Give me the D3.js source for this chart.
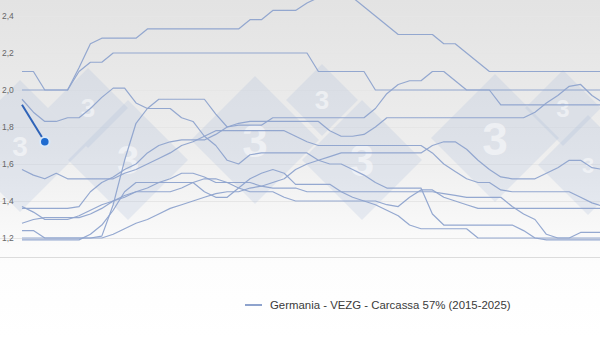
<!DOCTYPE html>
<html>
<head>
<meta charset="utf-8">
<script src="https://cdn.jsdelivr.net/npm/d3@7"></script>
<style>
  html, body { margin: 0; padding: 0; background: #fff; }
  svg { display: block; font-family: "Liberation Sans", Arial, sans-serif; }
</style>
</head>
<body>
<svg id="chart" width="600" height="338"></svg>
<script>
// VEZG weekly pig price, carcass 57% (€/kg), one row per year, weeks 1..52
const weeks = d3.range(1, 53);
const years = [2015, 2016, 2017, 2018, 2019, 2020, 2021, 2022, 2023, 2024];

const p2015 = [1.28,1.30,1.31,1.31,1.31,1.31,1.33,1.36,1.40,1.43,1.45,1.47,1.50,1.52,1.55,1.55,1.53,1.50,1.50,1.50,
               1.50,1.48,1.47,1.47,1.47,1.45,1.45,1.45,1.45,1.45,1.45,1.45,1.45,1.45,1.45,1.45,1.45,1.44,1.43,1.42,
               1.42,1.42,1.42,1.37,1.33,1.30,1.22,1.20,1.20,1.23,1.23,1.23];
const p2016 = [1.24,1.24,1.20,1.20,1.20,1.20,1.20,1.20,1.22,1.25,1.28,1.30,1.33,1.36,1.38,1.40,1.42,1.44,1.45,1.45,
               1.47,1.48,1.50,1.52,1.57,1.60,1.62,1.64,1.66,1.66,1.66,1.66,1.66,1.66,1.66,1.66,1.70,1.72,1.72,1.68,
               1.62,1.57,1.53,1.52,1.52,1.52,1.55,1.58,1.62,1.62,1.58,1.57];
const p2017 = [1.57,1.54,1.52,1.55,1.52,1.52,1.52,1.52,1.52,1.55,1.57,1.60,1.63,1.66,1.70,1.72,1.75,1.78,1.78,1.78,
               1.78,1.78,1.78,1.78,1.75,1.72,1.70,1.70,1.70,1.70,1.70,1.70,1.70,1.70,1.70,1.70,1.66,1.60,1.56,1.52,
               1.50,1.50,1.46,1.45,1.45,1.45,1.45,1.45,1.45,1.42,1.39,1.37];
const p2018 = [1.37,1.34,1.30,1.30,1.30,1.32,1.35,1.38,1.40,1.42,1.45,1.45,1.45,1.45,1.47,1.50,1.52,1.52,1.50,1.47,
               1.45,1.45,1.45,1.42,1.40,1.40,1.40,1.40,1.40,1.40,1.40,1.40,1.38,1.37,1.42,1.46,1.46,1.42,1.40,1.38,
               1.36,1.36,1.36,1.36,1.36,1.36,1.36,1.36,1.36,1.36,1.36,1.36];
const p2019 = [1.36,1.36,1.36,1.36,1.36,1.37,1.45,1.50,1.53,1.57,1.60,1.66,1.70,1.72,1.73,1.73,1.73,1.76,1.80,1.82,
               1.83,1.83,1.83,1.83,1.83,1.83,1.83,1.78,1.75,1.75,1.76,1.80,1.85,1.85,1.85,1.85,1.85,1.85,1.85,1.85,
               1.85,1.85,1.85,1.85,1.85,1.88,1.93,1.97,2.02,2.03,1.97,1.93];
const p2020 = [1.95,1.88,1.83,1.83,1.85,1.85,1.90,1.96,2.01,2.01,1.93,1.90,1.90,1.90,1.85,1.83,1.75,1.70,1.62,1.60,
               1.65,1.66,1.66,1.66,1.66,1.66,1.62,1.60,1.60,1.57,1.54,1.50,1.47,1.47,1.47,1.47,1.33,1.27,1.27,1.27,
               1.27,1.27,1.27,1.27,1.24,1.20,1.19,1.19,1.19,1.19,1.19,1.19];
const p2021 = [1.19,1.19,1.19,1.19,1.19,1.19,1.22,1.27,1.35,1.45,1.50,1.50,1.50,1.50,1.50,1.50,1.45,1.42,1.42,1.47,
               1.52,1.55,1.57,1.55,1.49,1.49,1.49,1.49,1.45,1.42,1.40,1.38,1.35,1.32,1.27,1.25,1.25,1.25,1.25,1.25,
               1.20,1.20,1.20,1.20,1.20,1.20,1.20,1.20,1.20,1.20,1.20,1.20];
const p2022 = [1.20,1.20,1.20,1.20,1.20,1.20,1.20,1.21,1.38,1.62,1.82,1.90,1.95,1.95,1.95,1.95,1.95,1.87,1.80,1.81,
               1.81,1.81,1.85,1.85,1.85,1.85,1.85,1.85,1.85,1.85,1.85,1.90,1.98,2.03,2.05,2.05,2.10,2.10,2.05,2.00,
               2.00,2.00,2.00,2.00,2.00,2.00,2.00,2.00,2.00,2.00,2.00,2.00];
const p2023 = [2.00,2.00,2.00,2.00,2.00,2.12,2.25,2.28,2.28,2.28,2.28,2.33,2.33,2.33,2.33,2.33,2.33,2.33,2.33,2.33,
               2.38,2.38,2.43,2.43,2.43,2.47,2.50,2.50,2.50,2.50,2.45,2.40,2.35,2.30,2.30,2.30,2.30,2.25,2.25,2.20,
               2.15,2.10,2.10,2.10,2.10,2.10,2.10,2.10,2.10,2.10,2.10,2.10];
const p2024 = [2.10,2.10,2.00,2.00,2.00,2.10,2.15,2.15,2.20,2.20,2.20,2.20,2.20,2.20,2.20,2.20,2.20,2.20,2.20,2.20,
               2.20,2.20,2.20,2.20,2.20,2.20,2.10,2.10,2.10,2.10,2.10,2.00,2.00,2.00,2.00,2.00,2.00,2.00,2.00,2.00,
               2.00,2.00,1.92,1.92,1.92,1.92,1.92,1.92,1.92,1.92,1.92,1.92];
const pastSeries = [p2015, p2016, p2017, p2018, p2019, p2020, p2021, p2022, p2023, p2024];

// current year so far
const weeks2025 = [1, 3];
const p2025 = [1.92, 1.72];

const yTicks = [1.2, 1.4, 1.6, 1.8, 2.0, 2.2, 2.4];
const yTickLabels = ["1,2", "1,4", "1,6", "1,8", "2,0", "2,2", "2,4"];
const legendLabel = "Germania - VEZG - Carcassa 57% (2015-2025)";

const svg = d3.select("#chart");
const W = 600, H = 338;

const x = d3.scaleLinear().domain([1, 52]).range([22, 603.4]);
const y = d3.scaleLinear().domain([1.2, 2.4]).range([238, 16]);

// background: soft grey fading to white towards the bottom
const defs = svg.append("defs");
const bg = defs.append("linearGradient").attr("id", "bg").attr("x1", 0).attr("y1", 0).attr("x2", 0).attr("y2", 1);
bg.append("stop").attr("offset", "0%").attr("stop-color", "#e3e3e3");
bg.append("stop").attr("offset", "45%").attr("stop-color", "#eeeeee");
bg.append("stop").attr("offset", "78%").attr("stop-color", "#fdfdfd");
bg.append("stop").attr("offset", "100%").attr("stop-color", "#ffffff");
svg.append("rect").attr("width", W).attr("height", H).attr("fill", "url(#bg)");

// gridlines
svg.append("g").selectAll("line").data(yTicks.concat([1.1])).join("line")
  .attr("x1", 0).attr("x2", W)
  .attr("y1", d => Math.round(y(d)) + 0.5).attr("y2", d => Math.round(y(d)) + 0.5)
  .attr("stroke", d => d === 1.1 ? "#dcdcdc" : "#e6e6e6").attr("stroke-width", 1);

// brand watermark: pale diamonds carrying a "3"
const marks = [
  { cx: 20, cy: 146, r: 66, fs: 28 }, { cx: 88, cy: 108, r: 40, fs: 26 }, { cx: 128, cy: 160, r: 60, fs: 40 },
  { cx: 255, cy: 140, r: 64, fs: 46 }, { cx: 322, cy: 100, r: 36, fs: 26 }, { cx: 362, cy: 160, r: 60, fs: 44 },
  { cx: 495, cy: 138, r: 64, fs: 46 }, { cx: 563, cy: 108, r: 38, fs: 24 }, { cx: 588, cy: 165, r: 50, fs: 22 }
];
const wm = svg.append("g").attr("class", "watermark");
const wmItem = wm.selectAll("g").data(marks).join("g")
  .attr("transform", d => `translate(${d.cx},${d.cy})`);
wmItem.append("path")
  .attr("d", d => `M0,${-d.r}L${d.r},0L0,${d.r}L${-d.r},0Z`)
  .attr("fill", "#9fb4d6").attr("fill-opacity", 0.2);
wmItem.append("text")
  .attr("text-anchor", "middle").attr("dy", "0.36em")
  .attr("font-size", d => d.fs).attr("font-weight", 700)
  .attr("fill", "#ffffff").attr("fill-opacity", 0.5)
  .text("3");

// y axis labels
svg.append("g").selectAll("text").data(yTicks).join("text")
  .attr("x", 2).attr("y", d => y(d)).attr("dy", "0.35em")
  .attr("font-size", 8.5).attr("fill", "#666")
  .text((d, i) => yTickLabels[i]);

// past years
const line = d3.line().x((d, i) => x(weeks[i])).y(d => y(d));
svg.append("g").selectAll("path").data(pastSeries).join("path")
  .attr("d", line)
  .attr("fill", "none").attr("stroke", "#8ea3cd").attr("stroke-width", 1.2)
  .attr("stroke-linejoin", "round").attr("stroke-opacity", 0.95);

// current year
const line25 = d3.line().x((d, i) => x(weeks2025[i])).y(d => y(d));
svg.append("path").datum(p2025).attr("d", line25)
  .attr("fill", "none").attr("stroke", "#2f63b8").attr("stroke-width", 2);
svg.append("circle")
  .attr("cx", x(weeks2025[weeks2025.length - 1])).attr("cy", y(p2025[p2025.length - 1]))
  .attr("r", 4.8).attr("fill", "#1e6bd0").attr("stroke", "#d9e8f8").attr("stroke-width", 2);

// legend
const lg = svg.append("g").attr("transform", "translate(245,305)");
lg.append("line").attr("x1", 0).attr("x2", 17).attr("y1", 0).attr("y2", 0)
  .attr("stroke", "#8ea3cd").attr("stroke-width", 2);
lg.append("text").attr("x", 25).attr("dy", "0.35em")
  .attr("font-size", 11.4).attr("fill", "#3a3a3a").text(legendLabel);
</script>
</body>
</html>
